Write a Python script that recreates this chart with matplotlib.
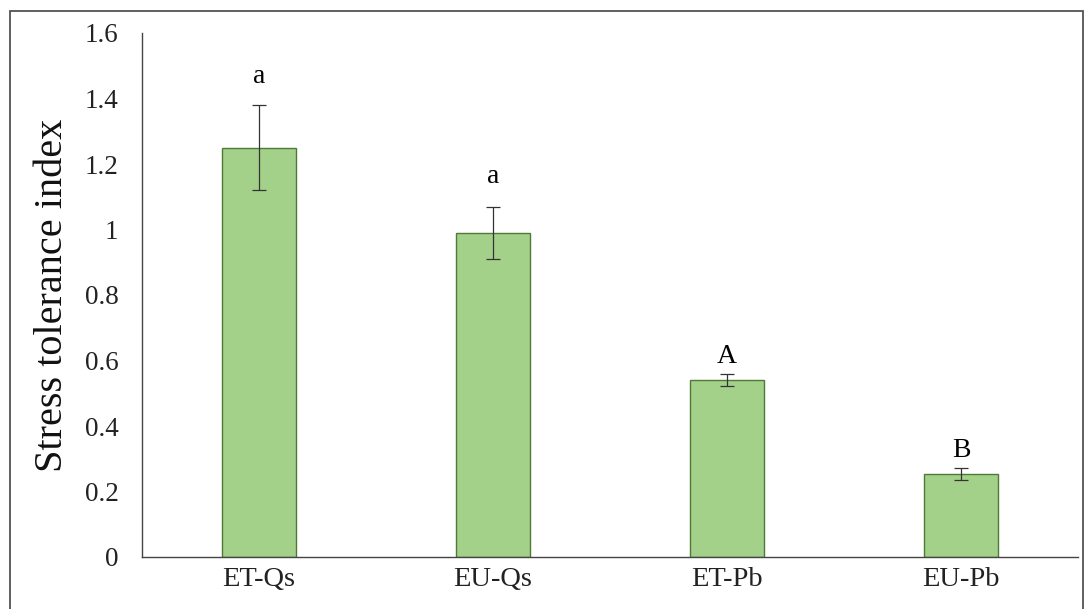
import matplotlib.pyplot as plt
from matplotlib.patches import Rectangle

plt.rcParams["font.family"] = ["Liberation Serif", "DejaVu Serif"]

groups = ["ET-Qs", "EU-Qs", "ET-Pb", "EU-Pb"]
sti = [1.25, 0.99, 0.54, 0.253]
sti_err = [0.13, 0.08, 0.018, 0.018]
letters = ["a", "a", "A", "B"]

fig = plt.figure(figsize=(10.86, 6.09), dpi=100)
ax = fig.add_axes([142 / 1086, 52 / 609, 936 / 1086, 524 / 609])

x = range(len(groups))
ax.bar(x, sti, width=0.32, color="#a3d18a", edgecolor="#4f7a35", linewidth=1.0, zorder=2)
ax.errorbar(x, sti, yerr=sti_err, fmt="none", ecolor="#333333",
            elinewidth=0.9, capsize=5, capthick=0.9, zorder=3)

# Excel-style labels were nudged by hand, so the gap differs a little
gaps = [0.05, 0.055, 0.015, 0.015]
for i, (v, e, lab) in enumerate(zip(sti, sti_err, letters)):
    ax.text(i, v + e + gaps[i], lab, ha="center", va="bottom", fontsize=20)

ax.set_xlim(-0.5, 3.5)
ax.set_ylim(0, 1.6)
ax.set_yticks([0, 0.2, 0.4, 0.6, 0.8, 1.0, 1.2, 1.4, 1.6])
ax.set_yticklabels(["0", "0.2", "0.4", "0.6", "0.8", "1", "1.2", "1.4", "1.6"])
ax.set_xticks(list(x))
ax.set_xticklabels(groups)
ax.tick_params(axis="y", length=0, pad=17, labelsize=19.5, labelcolor="#222222")
ax.tick_params(axis="x", length=0, pad=7, labelsize=20.5, labelcolor="#222222")
ax.set_ylabel("Stress tolerance index", fontsize=29, labelpad=10, color="#111111")

for s in ["top", "right"]:
    ax.spines[s].set_visible(False)
for s in ["left", "bottom"]:
    ax.spines[s].set_color("#444444")
    ax.spines[s].set_linewidth(1.0)

fig.patches.append(Rectangle((10 / 1086, -0.05), 1073 / 1086, 1.05 - 11 / 609,
                             transform=fig.transFigure, fill=False,
                             edgecolor="#444444", linewidth=1.2))

fig.savefig("out.png", dpi=100)
